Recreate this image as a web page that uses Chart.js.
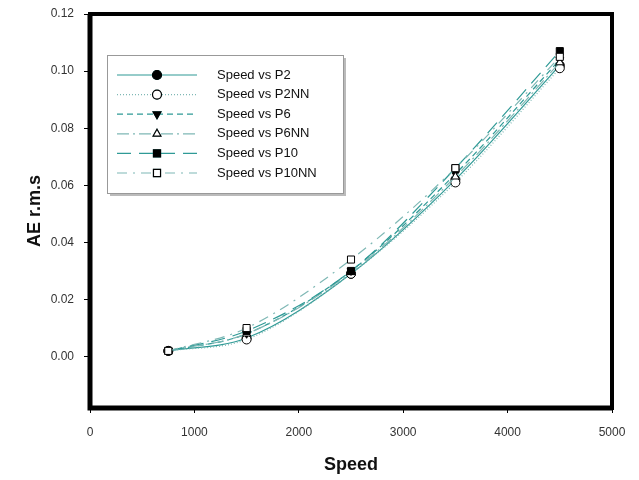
<!DOCTYPE html>
<html>
<head>
<meta charset="utf-8">
<script src="https://cdn.jsdelivr.net/npm/chart.js@4.4.0/dist/chart.umd.min.js"></script>
<style>
  html, body { margin: 0; padding: 0; background: #fff; }
  #wrap { width: 639px; height: 480px; }
</style>
</head>
<body>
<div id="wrap"><canvas id="chart"></canvas></div>
<script>
const speeds = [750, 1500, 2500, 3500, 4500];
const p2 = [0.002, 0.0065, 0.029, 0.062, 0.102];
const p2nn = [0.002, 0.006, 0.029, 0.061, 0.101];
const p6 = [0.002, 0.008, 0.030, 0.064, 0.104];
const p6nn = [0.002, 0.008, 0.0295, 0.063, 0.103];
const p10 = [0.002, 0.009, 0.030, 0.066, 0.107];
const p10nn = [0.002, 0.010, 0.034, 0.066, 0.105];
const yTicks = [0, 0.02, 0.04, 0.06, 0.08, 0.10, 0.12];
const xTicks = [0, 1000, 2000, 3000, 4000, 5000];

const teal = '#2f9a96';
const pts = (ys) => speeds.map((x, i) => ({ x: x, y: ys[i] }));

const series = [
  { label: 'Speed vs P2', data: p2, dash: [], style: 'circle', fill: '#000', rot: 0 },
  { label: 'Speed vs P2NN', data: p2nn, dash: [1, 2], style: 'circle', fill: '#fff', rot: 0 },
  { label: 'Speed vs P6', data: p6, dash: [6, 4], style: 'triangle', fill: '#000', rot: 180 },
  { label: 'Speed vs P6NN', data: p6nn, dash: [12, 4, 2, 4], style: 'triangle', fill: '#fff', rot: 0 },
  { label: 'Speed vs P10', data: p10, dash: [14, 8], style: 'rect', fill: '#000', rot: 0 },
  { label: 'Speed vs P10NN', data: p10nn, dash: [10, 6, 2, 6], style: 'rect', fill: '#fff', rot: 0 }
];

// later series sit on top, like the original plot
const datasets = series.map((s, i) => ({
  label: s.label,
  data: pts(s.data),
  order: series.length - i,
  borderColor: s.fill === '#fff' ? '#7fb8b5' : teal,
  borderWidth: 1.2,
  borderDash: s.dash,
  cubicInterpolationMode: 'monotone',
  pointStyle: s.style,
  pointRotation: s.rot,
  pointRadius: s.style === 'rect' ? 5 : 4.5,
  pointBackgroundColor: s.fill,
  pointBorderColor: '#000',
  pointBorderWidth: 1,
  fill: false
}));

// thick frame around the plot area
const framePlugin = {
  id: 'frame',
  afterDraw(chart) {
    const a = chart.chartArea;
    const ctx = chart.ctx;
    ctx.save();
    ctx.strokeStyle = '#000';
    ctx.lineWidth = 4;
    ctx.strokeRect(a.left, a.top, a.right - a.left, a.bottom - a.top);
    ctx.lineWidth = 5;
    ctx.beginPath();
    ctx.moveTo(a.left, a.top);
    ctx.lineTo(a.left, a.bottom);
    ctx.lineTo(a.right, a.bottom);
    ctx.stroke();
    ctx.restore();
  }
};

// boxed legend inside the plot
const legendPlugin = {
  id: 'boxLegend',
  afterDraw(chart) {
    const ctx = chart.ctx;
    const bx = 107, by = 55, bw = 236, bh = 138;
    ctx.save();
    ctx.fillStyle = '#bbb';
    ctx.fillRect(bx + 3, by + 3, bw, bh);
    ctx.fillStyle = '#fff';
    ctx.fillRect(bx, by, bw, bh);
    ctx.strokeStyle = '#999';
    ctx.lineWidth = 1;
    ctx.strokeRect(bx + 0.5, by + 0.5, bw, bh);
    ctx.font = '13px "Liberation Sans", Arial, sans-serif';
    ctx.textBaseline = 'middle';
    series.forEach((s, i) => {
      const ds = chart.data.datasets[i];
      const y = by + 20 + i * 19.6;
      ctx.strokeStyle = ds.borderColor;
      ctx.lineWidth = 1.2;
      ctx.setLineDash(ds.borderDash);
      ctx.beginPath();
      ctx.moveTo(117, y);
      ctx.lineTo(197, y);
      ctx.stroke();
      ctx.setLineDash([]);
      Chart.helpers.drawPoint(ctx, {
        pointStyle: ds.pointStyle,
        rotation: ds.pointRotation,
        radius: ds.pointRadius,
        borderWidth: 1
      }, 157, y);
      ctx.fillStyle = ds.pointBackgroundColor;
      ctx.strokeStyle = '#000';
      ctx.fill();
      ctx.stroke();
      ctx.fillStyle = '#111';
      ctx.fillText(ds.label, 217, y);
    });
    ctx.restore();
  }
};

new Chart(document.getElementById('chart'), {
  type: 'line',
  data: { datasets: datasets },
  options: {
    responsive: true,
    maintainAspectRatio: false,
    animation: false,
    layout: { padding: { top: 14, right: 27, left: 20, bottom: 0 } },
    plugins: { legend: { display: false }, tooltip: { enabled: false } },
    scales: {
      x: {
        type: 'linear',
        min: 0,
        max: 5000,
        afterBuildTicks: (s) => { s.ticks = xTicks.map((v) => ({ value: v })); },
        afterFit: (s) => { s.height = 72; s.paddingLeft = 0; s.paddingRight = 0; },
        grid: { drawOnChartArea: false, drawTicks: true, tickLength: 5, color: '#000' },
        border: { display: false },
        ticks: { color: '#333', font: { size: 12, family: '"Liberation Sans", Arial' }, padding: 12, maxRotation: 0, callback: (v) => String(v) },
        title: { display: true, text: 'Speed', color: '#111', font: { size: 18, weight: 'bold', family: '"Liberation Sans", Arial' }, padding: { top: 8 } }
      },
      y: {
        type: 'linear',
        min: -0.018,
        max: 0.12,
        afterBuildTicks: (s) => { s.ticks = yTicks.map((v) => ({ value: v })); },
        afterFit: (s) => { s.width = 70; s.paddingTop = 0; s.paddingBottom = 0; },
        grid: { drawOnChartArea: false, drawTicks: true, tickLength: 6, color: '#000' },
        border: { display: false },
        ticks: { color: '#333', font: { size: 12, family: '"Liberation Sans", Arial' }, padding: 10, callback: (v) => v.toFixed(2) },
        title: { display: true, text: 'AE r.m.s', color: '#111', font: { size: 18, weight: 'bold', family: '"Liberation Sans", Arial' }, padding: { bottom: 6 } }
      }
    }
  },
  plugins: [framePlugin, legendPlugin]
});
</script>
</body>
</html>
